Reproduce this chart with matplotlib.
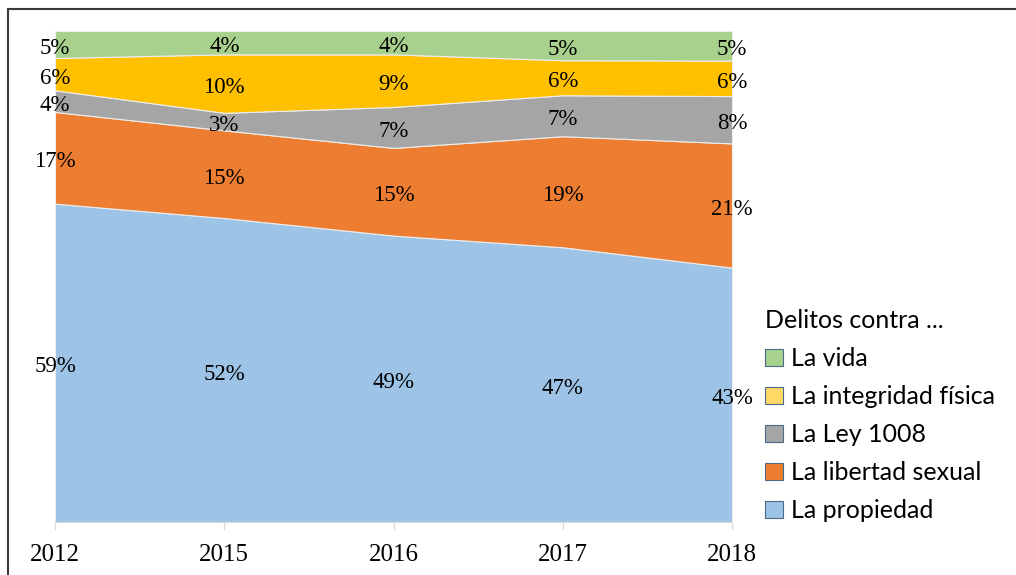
import numpy as np
import matplotlib.pyplot as plt
import matplotlib.transforms as mtransforms
from matplotlib.patches import Patch
from matplotlib.lines import Line2D

# Data (raw percentages shown in labels; the chart is a 100% stacked area)
years = ['2012', '2015', '2016', '2017', '2018']
propiedad = [59, 52, 49, 47, 43]
libertad_sexual = [17, 15, 15, 19, 21]
ley_1008 = [4, 3, 7, 7, 8]
integridad = [6, 10, 9, 6, 6]
vida = [5, 4, 4, 5, 5]

series_names = ['La propiedad', 'La libertad sexual', 'La Ley 1008',
                'La integridad física', 'La vida']
colors = ['#9DC3E6', '#ED7D31', '#A5A5A5', '#FFC000', '#A9D18E']
legend_colors = ['#9DC3E6', '#ED7D31', '#A5A5A5', '#FFD966', '#A9D18E']

raw = np.array([propiedad, libertad_sexual, ley_1008, integridad, vida], dtype=float)
share = raw / raw.sum(axis=0)

fig = plt.figure(figsize=(10.16, 5.75), dpi=100)
ax = fig.add_axes([55 / 1016, 1 - 522 / 575, (732 - 55) / 1016, (522 - 31) / 575])

x = np.arange(len(years))
ax.stackplot(x, share, colors=colors, edgecolor='#EDEDED', linewidth=0.8)

# value labels at the middle of each band (nudged down a few pixels)
shift = mtransforms.offset_copy(ax.transData, fig=fig, x=0, y=-4, units='dots')
bottoms = np.vstack([np.zeros(len(years)), np.cumsum(share, axis=0)[:-1]])
for i in range(len(series_names)):
    for j in range(len(years)):
        ymid = bottoms[i, j] + share[i, j] / 2
        ax.text(x[j], ymid, f'{int(raw[i, j])}%', ha='center', va='center',
                fontsize=16.5, family='Liberation Serif', color='black',
                clip_on=False, transform=shift)

ax.set_xlim(0, len(years) - 1)
ax.set_ylim(0, 1)
ax.set_xticks(x)
ax.set_xticklabels(years, family='Liberation Serif', fontsize=18)
ax.set_yticks([])
for s in ['top', 'right', 'left']:
    ax.spines[s].set_visible(False)
ax.spines['bottom'].set_color('#D9D9D9')
ax.tick_params(axis='x', length=6, color='#D9D9D9', pad=10)

handles = [Patch(facecolor=c, edgecolor='#4A6A8A', linewidth=0.8) for c in legend_colors]
leg = fig.legend(handles[::-1], series_names[::-1], loc='upper left',
                 bbox_to_anchor=(745 / 1016, 1 - 289 / 575), frameon=False,
                 title='Delitos contra ...', alignment='left',
                 prop={'family': 'Lato', 'size': 18}, title_fontproperties={'family': 'Lato', 'size': 18},
                 handlelength=0.7, handleheight=0.7, handletextpad=0.35, labelspacing=0.6,
                 borderpad=0.3)
leg._legend_handle_box.sep = 4  # tighten gap between title and first entry

# outer chart frame (top and left edges visible)
fig.add_artist(Line2D([8 / 1016, 8 / 1016], [0, 1 - 9 / 575], color='#3A3A3A', lw=1.5))
fig.add_artist(Line2D([8 / 1016, 1], [1 - 9 / 575, 1 - 9 / 575], color='#3A3A3A', lw=1.5))

fig.savefig('out.png', dpi=100)
